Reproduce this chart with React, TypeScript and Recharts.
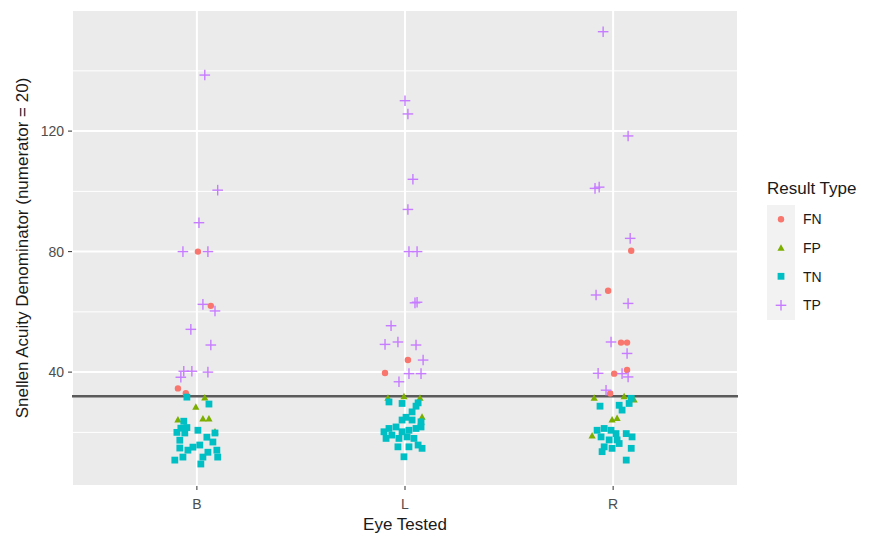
import React from 'react';
import { ScatterChart, Scatter, XAxis, YAxis, CartesianGrid, ReferenceLine } from 'recharts';

const EYES = ['B', 'L', 'R'];
const Y_TICKS = [40, 80, 120];
const Y_MINOR = [20, 60, 100, 140];
const THRESHOLD = 32;

type Pt = [string, number, number]; // [eye, jitter offset, denominator]

const FN_POINTS: Pt[] = [
  ['B', 0.005, 80], ['B', 0.067, 62], ['B', -0.091, 34.6], ['B', -0.053, 33],
  ['L', 0.014, 44], ['L', -0.096, 39.7],
  ['R', 0.087, 80.3], ['R', -0.024, 67], ['R', 0.038, 49.8], ['R', 0.067, 49.8],
  ['R', 0.005, 39.5], ['R', 0.067, 40.7], ['R', -0.014, 32.9],
];

const FP_POINTS: Pt[] = [
  ['B', 0.038, 31.4], ['B', -0.005, 28.3], ['B', -0.091, 24.1], ['B', 0.029, 24.4],
  ['B', 0.058, 24.4], ['B', 0.087, 20.1],
  ['L', -0.082, 31.3], ['L', -0.005, 31.8], ['L', 0.072, 31.3], ['L', 0.082, 25],
  ['R', -0.091, 31.3], ['R', 0.053, 31.8], ['R', 0.101, 30.7], ['R', -0.005, 24.1],
  ['R', 0.019, 24.6], ['R', -0.101, 18.8],
];

const TN_POINTS: Pt[] = [
  ['B', -0.048, 31.7], ['B', 0.058, 29.4], ['B', -0.063, 23.7], ['B', -0.077, 21.4],
  ['B', -0.106, 10.8], ['B', 0.019, 9.5], ['B', -0.067, 11.8], ['B', 0.1, 11.8],
  ['B', -0.082, 17.4], ['B', -0.096, 20], ['B', -0.048, 21.6], ['B', 0.005, 20.7],
  ['B', 0.048, 18.4], ['B', 0.077, 16.8], ['B', 0.096, 14.1], ['B', -0.043, 14.1],
  ['B', -0.019, 15.1], ['B', 0.014, 15.8], ['B', 0.053, 13.4], ['B', -0.082, 14.8],
  ['B', -0.058, 19.8], ['B', 0.029, 11.8], ['B', 0.087, 19.8],
  ['L', -0.077, 30.1], ['L', -0.014, 29.6], ['L', 0.063, 29.8], ['L', 0.077, 23.5],
  ['L', 0.053, 28.7], ['L', 0.034, 26.8], ['L', 0.005, 25], ['L', -0.014, 24.1],
  ['L', 0.034, 24.1], ['L', -0.043, 21.8], ['L', -0.077, 21.3], ['L', -0.101, 20.2],
  ['L', -0.063, 19.1], ['L', -0.014, 20.2], ['L', 0.019, 20.7], ['L', 0.053, 21.3],
  ['L', 0.077, 21.8], ['L', 0.01, 18.5], ['L', 0.043, 18], ['L', -0.029, 18],
  ['L', 0.063, 15.8], ['L', -0.034, 15.2], ['L', 0.019, 15.2], ['L', 0.082, 14.7],
  ['L', -0.005, 11.9], ['L', -0.091, 18],
  ['R', 0.087, 31.3], ['R', -0.063, 28.7], ['R', 0.029, 29], ['R', 0.043, 27.4],
  ['R', 0.077, 29.6], ['R', -0.077, 20.7], ['R', -0.043, 21.3], ['R', -0.01, 20.7],
  ['R', 0.014, 19.6], ['R', 0.063, 19.6], ['R', 0.091, 18.5], ['R', -0.058, 18.5],
  ['R', -0.019, 17.5], ['R', 0.019, 17.5], ['R', -0.043, 15.2], ['R', -0.005, 14.7],
  ['R', 0.087, 14.7], ['R', -0.053, 13.6], ['R', 0.063, 10.8], ['R', 0.029, 16.3],
];

const TP_POINTS: Pt[] = [
  ['B', 0.038, 138.6], ['B', 0.1, 100.4], ['B', 0.01, 89.6], ['B', -0.067, 80],
  ['B', 0.053, 80], ['B', 0.029, 62.5], ['B', 0.087, 60.3], ['B', -0.029, 54.2],
  ['B', 0.067, 49], ['B', -0.077, 38.3], ['B', -0.063, 40.3], ['B', -0.024, 40.3],
  ['B', 0.053, 40],
  ['L', 0, 130.1], ['L', 0.014, 125.7], ['L', 0.038, 104], ['L', 0.014, 94],
  ['L', 0.019, 80], ['L', 0.058, 80], ['L', 0.048, 63], ['L', 0.058, 63.2],
  ['L', -0.067, 55.4], ['L', -0.096, 49.2], ['L', -0.034, 50], ['L', 0.053, 49],
  ['L', 0.087, 44], ['L', 0.019, 39.5], ['L', 0.077, 39.5], ['L', -0.029, 36.8],
  ['R', -0.048, 153], ['R', 0.072, 118.4], ['R', -0.087, 101], ['R', -0.067, 101.4],
  ['R', 0.082, 84.4], ['R', -0.082, 65.6], ['R', 0.072, 62.8], ['R', -0.01, 50],
  ['R', 0.067, 46.2], ['R', -0.072, 39.6], ['R', 0.043, 39.5], ['R', 0.072, 38.4],
  ['R', -0.034, 34],
];

const SERIES = [
  { name: 'FN', color: '#F8766D', kind: 'circle', points: FN_POINTS },
  { name: 'FP', color: '#7CAE00', kind: 'triangle', points: FP_POINTS },
  { name: 'TN', color: '#00BFC4', kind: 'square', points: TN_POINTS },
  { name: 'TP', color: '#C77CFF', kind: 'plus', points: TP_POINTS },
];

const toData = (pts: Pt[]) =>
  pts.map(([eye, j, v]) => ({ x: EYES.indexOf(eye) + 1 + j, y: v }));

const drawSymbol = (kind: string, color: string, cx: number, cy: number) => {
  switch (kind) {
    case 'circle':
      return <circle cx={cx} cy={cy} r={3.2} fill={color} />;
    case 'triangle':
      return (
        <polygon
          points={`${cx},${cy - 4} ${cx + 3.6},${cy + 2.4} ${cx - 3.6},${cy + 2.4}`}
          fill={color}
        />
      );
    case 'square':
      return <rect x={cx - 3.4} y={cy - 3.4} width={6.8} height={6.8} fill={color} />;
    default:
      return (
        <g stroke={color} strokeWidth={1.4}>
          <line x1={cx - 5.3} x2={cx + 5.3} y1={cy} y2={cy} />
          <line x1={cx} x2={cx} y1={cy - 5.3} y2={cy + 5.3} />
        </g>
      );
  }
};

const makeShape = (kind: string, color: string) => (props: any) => {
  const { cx, cy } = props;
  if (cx == null || cy == null) return <g />;
  return drawSymbol(kind, color, cx, cy);
};

const FONT = 'Arial, "Liberation Sans", sans-serif';

const LegendBox = () => (
  <div style={{ position: 'absolute', left: 767, top: 176, width: 100, fontFamily: FONT }}>
    <div style={{ fontSize: 17, lineHeight: '26px', height: 29, color: '#1A1A1A' }}>Result Type</div>
    {SERIES.map((s) => (
      <div key={s.name} style={{ display: 'flex', alignItems: 'center', height: 28.7 }}>
        <div style={{ width: 28, height: 28.7, background: '#F2F2F2' }}>
          <svg width={28} height={28.7} style={{ display: 'block' }}>
            {drawSymbol(s.kind, s.color, 14, 14.3)}
          </svg>
        </div>
        <span style={{ marginLeft: 8, fontSize: 14, color: '#1A1A1A' }}>{s.name}</span>
      </div>
    ))}
  </div>
);

export default function App() {
  return (
    <div style={{ position: 'absolute', left: 0, top: 0, width: 869, height: 535, background: '#fff' }}>
      <ScatterChart width={869} height={535} margin={{ top: 10, right: 131, bottom: 0, left: 0 }}>
        <CartesianGrid fill="#EBEBEB" stroke="#FFFFFF" strokeWidth={2} />
        {Y_MINOR.map((v) => (
          <ReferenceLine key={v} y={v} stroke="#FFFFFF" strokeWidth={1} ifOverflow="hidden" />
        ))}
        <XAxis
          dataKey="x"
          type="number"
          domain={[0.4, 3.6]}
          ticks={[1, 2, 3]}
          tickFormatter={(v: number) => EYES[v - 1]}
          allowDataOverflow
          height={49}
          axisLine={false}
          tickSize={4}
          tickMargin={9}
          tickLine={{ stroke: '#333333' }}
          tick={{ fill: '#4D4D4D', fontSize: 14, fontFamily: FONT }}
          label={{ value: 'Eye Tested', position: 'insideBottom', offset: 5, fill: '#1A1A1A', fontSize: 17, fontFamily: FONT }}
        />
        <YAxis
          dataKey="y"
          type="number"
          domain={[2.2, 160.2]}
          ticks={Y_TICKS}
          allowDataOverflow
          width={72}
          axisLine={false}
          tickSize={4}
          tickMargin={4}
          tickLine={{ stroke: '#333333' }}
          tick={{ fill: '#4D4D4D', fontSize: 14, fontFamily: FONT }}
          label={{
            value: 'Snellen Acuity Denominator (numerator = 20)',
            angle: -90,
            position: 'insideLeft',
            offset: 22,
            fill: '#1A1A1A',
            fontSize: 17,
            fontFamily: FONT,
            style: { textAnchor: 'middle' },
          }}
        />
        <ReferenceLine y={THRESHOLD} stroke="#5A5A5A" strokeWidth={2.5} />
        {SERIES.map((s) => (
          <Scatter
            key={s.name}
            name={s.name}
            data={toData(s.points)}
            fill={s.color}
            shape={makeShape(s.kind, s.color)}
            isAnimationActive={false}
          />
        ))}
      </ScatterChart>
      <LegendBox />
    </div>
  );
}
